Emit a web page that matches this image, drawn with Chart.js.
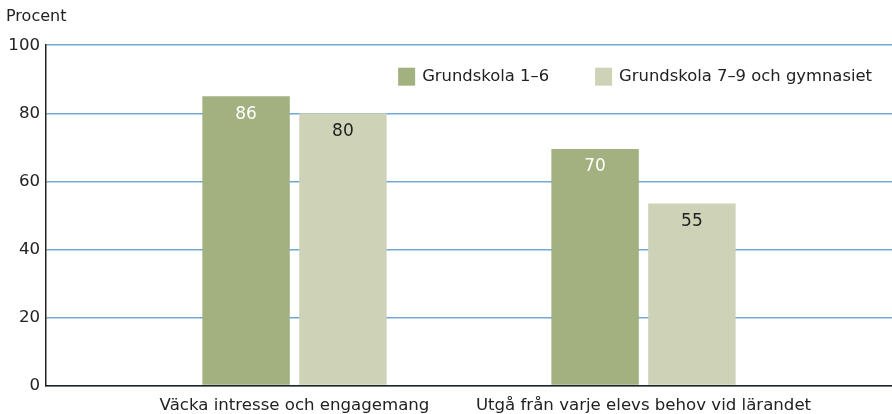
<!DOCTYPE html>
<html>
<head>
<meta charset="utf-8">
<script src="https://cdn.jsdelivr.net/npm/chart.js@4/dist/chart.umd.min.js"></script>
<style>
  html, body { margin: 0; padding: 0; background: #fff; }
  #wrap { width: 892px; height: 414px; }
</style>
</head>
<body>
<div id="wrap"><canvas id="c" width="892" height="414"></canvas></div>
<script>
// ---- data ----
const categories = ['Väcka intresse och engagemang', 'Utgå från varje elevs behov vid lärandet'];
const seriesNames = ['Grundskola 1–6', 'Grundskola 7–9 och gymnasiet'];
const valuesGrundskola16 = [85, 69.5];
const valuesGrundskola79 = [80, 53.5];
const labelsGrundskola16 = ['86', '70'];
const labelsGrundskola79 = ['80', '55'];
const yTicks = [0, 20, 40, 60, 80, 100];

const FONT = 'DejaVu Sans';
const TXT = '#222222';
const GRID = '#6ea9d9';
const colors = ['#a2b17f', '#ced3b7'];
const valueLabelColors = ['#ffffff', '#222222'];
const valueLabels = [labelsGrundskola16, labelsGrundskola79];

const valueLabelPlugin = {
  id: 'valueLabels',
  afterDatasetsDraw(chart) {
    const ctx = chart.ctx;
    ctx.save();
    ctx.font = '17px "' + FONT + '"';
    ctx.textAlign = 'center';
    ctx.textBaseline = 'middle';
    chart.data.datasets.forEach((ds, di) => {
      const meta = chart.getDatasetMeta(di);
      meta.data.forEach((bar, i) => {
        ctx.fillStyle = valueLabelColors[di];
        ctx.fillText(valueLabels[di][i], bar.x, bar.y + 18);
      });
    });
    ctx.restore();
  }
};

const legendPlugin = {
  id: 'innerLegend',
  afterDraw(chart) {
    const ctx = chart.ctx;
    const area = chart.chartArea;
    ctx.save();
    ctx.font = '16.4px "' + FONT + '"';
    ctx.textBaseline = 'middle';
    ctx.textAlign = 'left';
    const boxW = 17, boxH = 18, gap = 7, itemGap = 46;
    const ds = chart.data.datasets;
    const widths = ds.map(d => boxW + gap + ctx.measureText(d.label).width);
    const total = widths.reduce((a, b) => a + b, 0) + itemGap * (ds.length - 1);
    let x = area.right - 20 - total;
    const yMid = area.top + 31.5;
    ds.forEach((d, i) => {
      ctx.fillStyle = d.backgroundColor;
      ctx.fillRect(x, yMid - boxH / 2, boxW, boxH);
      ctx.fillStyle = TXT;
      ctx.fillText(d.label, x + boxW + gap, yMid + 0.5);
      x += widths[i] + itemGap;
    });
    ctx.restore();
  }
};

new Chart(document.getElementById('c'), {
  type: 'bar',
  data: {
    labels: categories,
    datasets: [
      { label: seriesNames[0], data: valuesGrundskola16, backgroundColor: colors[0],
        categoryPercentage: 0.555, barPercentage: 0.903 },
      { label: seriesNames[1], data: valuesGrundskola79, backgroundColor: colors[1],
        categoryPercentage: 0.555, barPercentage: 0.903 }
    ]
  },
  options: {
    responsive: false,
    animation: false,
    devicePixelRatio: 1,
    layout: { padding: { left: 6, right: 0, top: 0, bottom: 0 } },
    plugins: {
      legend: { display: false },
      tooltip: { enabled: false },
      title: {
        display: true,
        text: 'Procent',
        align: 'start',
        color: TXT,
        font: { family: FONT, size: 16, weight: 'normal' },
        padding: { top: 7.5, bottom: 18.5 }
      }
    },
    scales: {
      x: {
        offset: true,
        grid: { display: false, drawTicks: false },
        border: { display: true, color: '#222222', width: 1.5 },
        ticks: { color: TXT, font: { family: FONT, size: 16.6 }, padding: 10.5, maxRotation: 0, autoSkip: false },
        afterBuildTicks: (s) => { s._startValue = -0.712; s._valueRange = 2.424; },
        afterFit: (s) => { s.height = 28.5; }
      },
      y: {
        min: 0,
        max: 100,
        afterBuildTicks: (s) => { s.ticks = yTicks.map(v => ({ value: v })); },
        grid: { color: () => GRID, lineWidth: 1.5, drawTicks: false },
        border: { display: true, color: '#222222', width: 1.5 },
        ticks: { color: TXT, font: { family: FONT, size: 16.6 }, padding: 6 },
        afterFit: (s) => { s.width = 40; }
      }
    }
  },
  plugins: [valueLabelPlugin, legendPlugin]
});
</script>
</body>
</html>
